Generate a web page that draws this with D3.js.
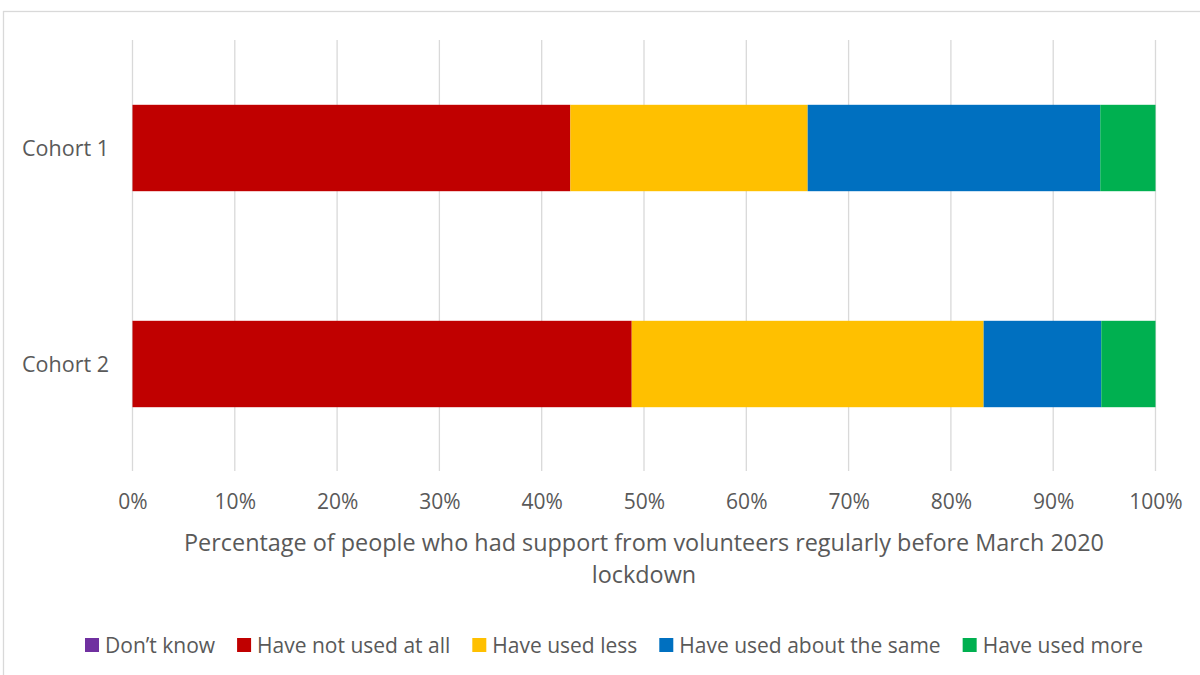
<!DOCTYPE html>
<html><head><meta charset="utf-8">
<script src="https://cdn.jsdelivr.net/npm/d3@7"></script>
<style>
html,body{margin:0;padding:0;background:#fff;}
svg{display:block;font-family:"Open Sans",sans-serif;}
</style></head>
<body>
<svg id="chart" width="1200" height="675"></svg>
<script>
const categories = ["Cohort 1", "Cohort 2"];
const seriesNames = ["Don’t know", "Have not used at all", "Have used less", "Have used about the same", "Have used more"];
const dontKnow     = [0, 0];
const notUsed      = [42.8, 48.8];
const usedLess     = [23.2, 34.4];
const usedSame     = [28.6, 11.5];
const usedMore     = [5.4, 5.3];
const tickValues   = [0, 10, 20, 30, 40, 50, 60, 70, 80, 90, 100];
const axisTitle    = ["Percentage of people who had support from volunteers regularly before March 2020", "lockdown"];
const colors       = ["#7030A0", "#C00000", "#FFC000", "#0070C0", "#00B050"];

const seriesValues = [dontKnow, notUsed, usedLess, usedSame, usedMore];
const rows = categories.map((c, i) => {
  const r = {category: c};
  seriesNames.forEach((s, j) => r[s] = seriesValues[j][i]);
  return r;
});

const svg = d3.select("#chart");
const textColor = "#595959";

// outer frame
svg.append("rect").attr("x", 3.5).attr("y", 11.5).attr("width", 1400).attr("height", 1000)
  .attr("fill", "none").attr("stroke", "#d9d9d9").attr("stroke-width", 1.3);

const x = d3.scaleLinear().domain([0, 100]).range([132.5, 1155.5]);
const y = d3.scaleBand().domain(categories).range([40, 472]).paddingInner(0.6).paddingOuter(0.3);

// gridlines
svg.append("g").selectAll("line").data(tickValues).join("line")
  .attr("x1", d => x(d)).attr("x2", d => x(d)).attr("y1", 40).attr("y2", 471)
  .attr("stroke", "#d9d9d9").attr("stroke-width", 1.3);

// stacked bars
const stack = d3.stack().keys(seriesNames)(rows);
svg.append("g").selectAll("g").data(stack).join("g")
  .attr("fill", (d, i) => colors[i])
  .selectAll("rect").data(d => d).join("rect")
  .attr("x", d => x(d[0])).attr("width", d => x(d[1]) - x(d[0]))
  .attr("y", d => y(d.data.category)).attr("height", y.bandwidth());

// x axis tick labels
const xAxis = d3.axisBottom(x).tickValues(tickValues).tickFormat(d => d + "%").tickSize(0).tickPadding(0);
const gx = svg.append("g").attr("transform", "translate(0,509)").call(xAxis);
gx.select(".domain").remove();
gx.selectAll("text").attr("fill", textColor).attr("font-size", 21).attr("font-family", "Open Sans").attr("dy", 0);

// y axis labels
const yAxis = d3.axisLeft(y).tickSize(0).tickPadding(0);
const gy = svg.append("g").attr("transform", "translate(109,0)").call(yAxis);
gy.select(".domain").remove();
gy.selectAll("text").attr("fill", textColor).attr("font-size", 21.5).attr("font-family", "Open Sans").attr("dy", "0.35em");

// axis title
svg.append("g").selectAll("text").data(axisTitle).join("text")
  .attr("x", 644).attr("y", (d, i) => 551 + i * 32)
  .attr("text-anchor", "middle").attr("fill", textColor).attr("font-size", 23.4)
  .text(d => d);

// legend
const legend = svg.append("g");
const items = legend.selectAll("g").data(seriesNames).join("g");
items.append("rect").attr("width", 14).attr("height", 14).attr("y", 638).attr("fill", (d, i) => colors[i]);
items.append("text").attr("x", 20).attr("y", 652.5).attr("fill", textColor).attr("font-size", 21).text(d => d);
let cx = 0;
const widths = [];
items.each(function() { widths.push(20 + d3.select(this).select("text").node().getComputedTextLength()); });
const total = d3.sum(widths) + 22 * (widths.length - 1);
cx = 614 - total / 2;
items.attr("transform", (d, i) => { const t = `translate(${cx},0)`; cx += widths[i] + 22; return t; });
</script>
</body></html>
